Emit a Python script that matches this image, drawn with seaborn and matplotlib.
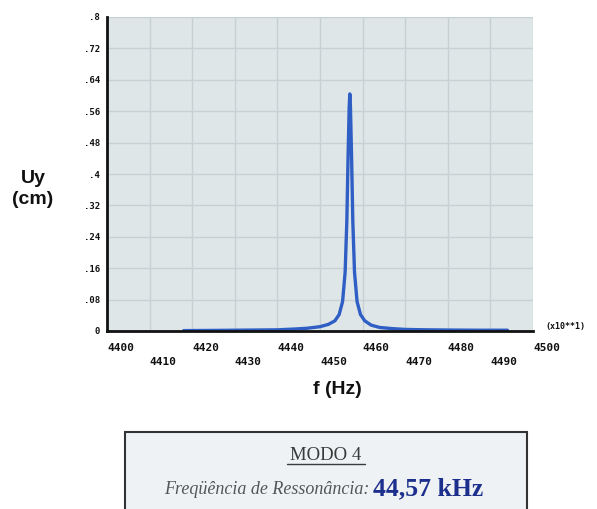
import matplotlib
matplotlib.use("Agg")
import matplotlib.pyplot as plt
from matplotlib.patches import Rectangle
import seaborn as sns
import pandas as pd

# Frequency response of mode 4 (frequency in units of 10 Hz, displacement in cm)
freq = [4418, 4425, 4430, 4435, 4440, 4444, 4447, 4450, 4452, 4453.5, 4454.5,
        4455.3, 4455.9, 4456.3, 4456.6, 4456.85, 4457.0, 4457.15, 4457.4,
        4457.7, 4458.1, 4458.7, 4459.5, 4460.5, 4462, 4464, 4467, 4470,
        4475, 4480, 4487, 4494]
uy = [0.001, 0.0015, 0.002, 0.0025, 0.003, 0.005, 0.007, 0.011, 0.017, 0.026,
      0.042, 0.075, 0.15, 0.28, 0.45, 0.57, 0.604, 0.57, 0.45, 0.28, 0.15,
      0.075, 0.042, 0.026, 0.015, 0.009, 0.006, 0.004, 0.003, 0.0025, 0.002,
      0.002]

x_ticks = list(range(4400, 4501, 10))
y_ticks = [0, 0.08, 0.16, 0.24, 0.32, 0.4, 0.48, 0.56, 0.64, 0.72, 0.8]
y_tick_labels = ["0", ".08", ".16", ".24", ".32", ".4", ".48", ".56", ".64", ".72", ".8"]

mode_title = "MODO 4"
freq_caption = "Freqüência de Ressonância:"
freq_value = "44,57 kHz"

df = pd.DataFrame({"f": freq, "Uy": uy})

sns.set_theme(style="white")
plt.rcParams["font.family"] = ["DejaVu Sans"]

W, H = 597, 509
fig = plt.figure(figsize=(W / 100, H / 100), dpi=100)
fig.patch.set_facecolor("white")

ax = fig.add_axes([107 / W, 1 - 331 / H, (533 - 107) / W, (331 - 17) / H])
ax.set_facecolor("#dfe6e8")

sns.lineplot(data=df, x="f", y="Uy", ax=ax, color="#2f5ec4", linewidth=2.4,
             estimator=None, sort=False, zorder=3)

ax.set_xlim(4400, 4500)
ax.set_ylim(0, 0.8)
ax.set_xticks(x_ticks)
ax.set_yticks(y_ticks)
ax.grid(True, color="#c6d1d3", linewidth=1.0, zorder=0)
ax.set_axisbelow(True)

xlabels = []
for i, t in enumerate(x_ticks):
    xlabels.append(str(t) if i % 2 == 0 else "\n" + str(t))
ax.set_xticklabels(xlabels, fontsize=8, fontweight="bold",
                   fontfamily="DejaVu Sans Mono", linespacing=1.5)
for lab in ax.get_xticklabels():
    lab.set_horizontalalignment("left")
ax.set_yticklabels(y_tick_labels, fontsize=6.5, fontweight="bold",
                   fontfamily="DejaVu Sans Mono")
ax.tick_params(axis="x", length=0, pad=8.5, colors="#111111")
ax.tick_params(axis="y", length=0, pad=5, colors="#111111")

for side in ("top", "right"):
    ax.spines[side].set_visible(False)
for side in ("left", "bottom"):
    ax.spines[side].set_color("#111111")
    ax.spines[side].set_linewidth(2.0)
    ax.spines[side].set_zorder(4)

ax.set_xlabel("")
ax.set_ylabel("")

fig.text(545 / W, 1 - 326 / H, "(x10**1)", fontsize=6, fontweight="bold",
         fontfamily="DejaVu Sans Mono", ha="left", va="center", color="#111111")
fig.text(33 / W, 1 - 189 / H, "Uy\n(cm)", fontsize=14, fontweight="bold",
         fontfamily="Liberation Sans", ha="center", va="center",
         linespacing=1.3, color="#111111")
fig.text(337 / W, 1 - 390 / H, "f (Hz)", fontsize=14, fontweight="bold",
         fontfamily="Liberation Sans", ha="center", va="center", color="#111111")

# Caption box with the resonance frequency
box = Rectangle((125 / W, -0.02), (527 - 125) / W, (H - 432) / H + 0.02,
                transform=fig.transFigure, facecolor="#eef2f5",
                edgecolor="#333333", linewidth=1.5)
fig.patches.append(box)
fig.text(326 / W, 1 - 456 / H, mode_title, fontsize=13.5, fontfamily="Liberation Serif",
         ha="center", va="center", color="#3a3a3a")
fig.add_artist(plt.Line2D([287 / W, 365 / W], [1 - 464 / H, 1 - 464 / H],
                          transform=fig.transFigure, color="#3a3a3a", linewidth=1.0))
fig.text(369 / W, 1 - 490 / H, freq_caption, fontsize=13, fontfamily="Liberation Serif",
         style="italic", ha="right", va="center", color="#555555")
fig.text(373 / W, 1 - 489 / H, freq_value, fontsize=18.5, fontfamily="Liberation Serif",
         fontweight="bold", ha="left", va="center", color="#1d2f8c")

fig.savefig("out.png", dpi=100)
